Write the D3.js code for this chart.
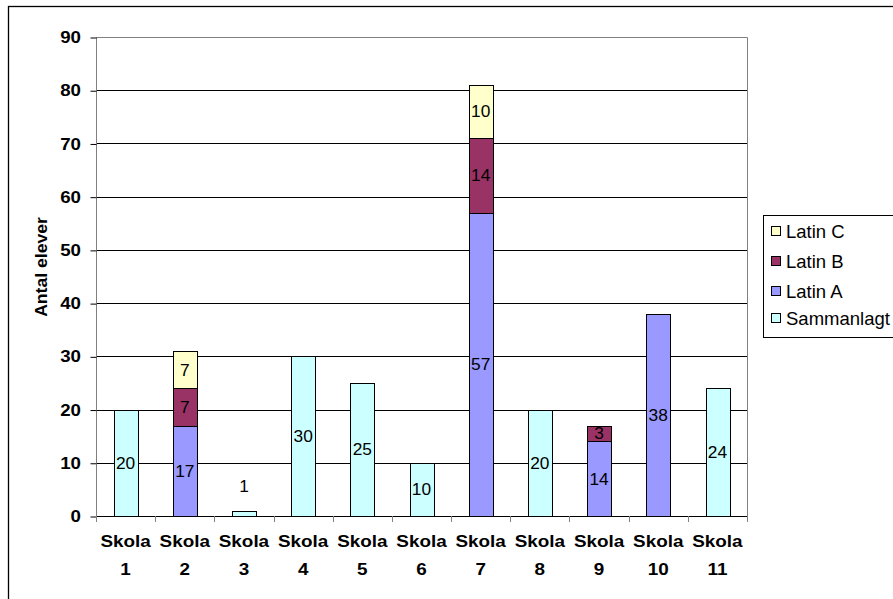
<!DOCTYPE html>
<html>
<head>
<meta charset="utf-8">
<script src="https://cdn.jsdelivr.net/npm/d3@7"></script>
<style>
  html, body { margin: 0; padding: 0; background: #fff; }
  svg { display: block; font-family: "Liberation Sans", Arial, sans-serif; }
</style>
</head>
<body>
<svg id="chart" width="893" height="599"></svg>
<script>
// Schools on the x axis
const schools = ["1", "2", "3", "4", "5", "6", "7", "8", "9", "10", "11"];
// Pupils per series and school
const sammanlagt = [20, 0, 1, 30, 25, 10, 0, 20, 0, 0, 24];
const latinA     = [0, 17, 0, 0, 0, 0, 57, 0, 14, 38, 0];
const latinB     = [0, 7, 0, 0, 0, 0, 14, 0, 3, 0, 0];
const latinC     = [0, 7, 0, 0, 0, 0, 10, 0, 0, 0, 0];
const yTicks     = [0, 10, 20, 30, 40, 50, 60, 70, 80, 90];

const seriesNames  = ["Sammanlagt", "Latin A", "Latin B", "Latin C"];
const seriesValues = [sammanlagt, latinA, latinB, latinC];
const colors = { "Sammanlagt": "#CCFFFF", "Latin A": "#9999FF", "Latin B": "#993366", "Latin C": "#FFFFCC" };

const svg = d3.select("#chart");

// outer chart frame (runs past the bottom and right edges)
svg.append("rect").attr("x", 8.5).attr("y", 6.5).attr("width", 900).attr("height", 600)
  .attr("fill", "#fff").attr("stroke", "#000").attr("stroke-width", 1.3);

const plotL = 96, plotR = 747, plotT = 37, plotB = 516;

const x = d3.scaleBand().domain(schools).range([plotL, plotR]).paddingInner(0).paddingOuter(0);
const y = d3.scaleLinear().domain([0, 90]).range([plotB, plotT]);
const barW = x.bandwidth() / 2.5;

// text with a slightly wide glyph shape
function wideText(sel, tx, ty, str, size, sx, opts = {}) {
  const t = sel.append("text")
    .attr("transform", `translate(${tx},${ty}) scale(${sx},1)`)
    .attr("font-size", size).attr("text-anchor", opts.anchor || "middle")
    .attr("font-weight", opts.bold ? "bold" : "normal")
    .attr("fill", "#000").text(str);
  if (opts.dy) t.attr("dy", opts.dy);
  return t;
}

// horizontal gridlines
svg.append("g").selectAll("line").data(yTicks.filter(v => v > 0 && v < 90)).join("line")
  .attr("x1", plotL).attr("x2", plotR)
  .attr("y1", d => Math.round(y(d)) + 0.5).attr("y2", d => Math.round(y(d)) + 0.5)
  .attr("stroke", "#000").attr("stroke-width", 1);

// plot frame top and right (gray)
svg.append("path")
  .attr("d", `M${plotL + 0.5},${Math.round(y(90)) + 0.5}H${plotR + 0.5}V${plotB + 0.5}`)
  .attr("fill", "none").attr("stroke", "#808080");

// stacked data
const table = schools.map((s, i) => {
  const row = { school: s };
  seriesNames.forEach((n, k) => row[n] = seriesValues[k][i]);
  return row;
});
const stacked = d3.stack().keys(seriesNames)(table);

const layers = svg.append("g").selectAll("g").data(stacked).join("g")
  .attr("fill", d => colors[d.key]);

layers.each(function(layer) {
  const g = d3.select(this);
  const segs = layer.filter(d => d[1] - d[0] > 0);
  g.selectAll("rect").data(segs).join("rect")
    .attr("x", d => Math.round(x(d.data.school) + (x.bandwidth() - barW) / 2) + 0.5)
    .attr("width", Math.round(barW))
    .attr("y", d => Math.round(y(d[1])) + 0.5)
    .attr("height", d => Math.round(y(d[0])) - Math.round(y(d[1])))
    .attr("stroke", "#000").attr("stroke-width", 1);
});

// value labels
const labels = svg.append("g");
stacked.forEach(layer => {
  layer.forEach(d => {
    const v = d[1] - d[0];
    if (v <= 0) return;
    const cx = x(d.data.school) + x.bandwidth() / 2;
    const segH = y(d[0]) - y(d[1]);
    const cy = segH < 12 && v < 2 ? y(d[1]) - 25 : (y(d[0]) + y(d[1])) / 2;
    wideText(labels, cx, cy, v, 16.5, 1.05, { dy: "0.36em" });
  });
});

// y axis
svg.append("line").attr("x1", plotL + 0.5).attr("x2", plotL + 0.5).attr("y1", plotT).attr("y2", plotB + 0.5)
  .attr("stroke", "#808080");
const yAxis = svg.append("g").attr("transform", `translate(${plotL + 0.5},0)`)
  .call(d3.axisLeft(y).tickValues(yTicks).tickSize(6).tickFormat(""));
yAxis.select(".domain").remove();
yAxis.selectAll(".tick line").attr("stroke", "#000").attr("transform", "translate(0,0.5)");
const yLab = svg.append("g");
yTicks.forEach(t => wideText(yLab, 81, y(t), t, 17, 1.1, { bold: true, anchor: "end", dy: "0.36em" }));

// x axis baseline and category dividers
svg.append("line").attr("x1", plotL).attr("x2", plotR + 1).attr("y1", plotB + 0.5).attr("y2", plotB + 0.5)
  .attr("stroke", "#000");
const dividers = schools.map(s => x(s)).concat([plotR]);
svg.append("g").selectAll("line").data(dividers).join("line")
  .attr("x1", d => Math.round(d) + 0.5).attr("x2", d => Math.round(d) + 0.5)
  .attr("y1", plotB).attr("y2", plotB + 6).attr("stroke", "#808080");

// category labels
const xl = svg.append("g");
schools.forEach(s => {
  const cx = x(s) + x.bandwidth() / 2;
  wideText(xl, cx, 547, "Skola", 16, 1.18, { bold: true });
  wideText(xl, cx, 575, s, 16, 1.18, { bold: true });
});

// y axis title
svg.append("text").attr("transform", `translate(47,267) rotate(-90) scale(1.1,1)`)
  .attr("text-anchor", "middle").attr("font-size", 16).attr("font-weight", "bold").text("Antal elever");

// legend
const legend = svg.append("g");
legend.append("rect").attr("x", 763.5).attr("y", 215.5).attr("width", 140).attr("height", 122)
  .attr("fill", "#fff").attr("stroke", "#000");
const legendOrder = ["Latin C", "Latin B", "Latin A", "Sammanlagt"];
const legendY = [231, 261, 291, 318];
legendOrder.forEach((n, i) => {
  legend.append("rect").attr("x", 771.5).attr("y", legendY[i] - 4.5).attr("width", 9).attr("height", 9)
    .attr("fill", colors[n]).attr("stroke", "#000");
  legend.append("text").attr("x", 786).attr("y", legendY[i]).attr("dy", "0.36em")
    .attr("font-size", 18.5).text(n);
});
</script>
</body>
</html>
